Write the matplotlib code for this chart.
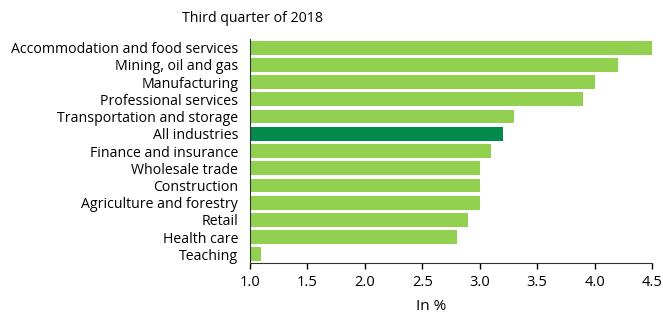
import matplotlib
matplotlib.use('Agg')
import matplotlib.pyplot as plt

plt.rcParams['font.family'] = ['Open Sans', 'DejaVu Sans']

categories = ['Accommodation and food services', 'Mining, oil and gas', 'Manufacturing',
              'Professional services', 'Transportation and storage', 'All industries',
              'Finance and insurance', 'Wholesale trade', 'Construction',
              'Agriculture and forestry', 'Retail', 'Health care', 'Teaching']
values = [4.5, 4.2, 4.0, 3.9, 3.3, 3.2, 3.1, 3.0, 3.0, 3.0, 2.9, 2.8, 1.1]
highlight = 'All industries'
xticks = [1.0, 1.5, 2.0, 2.5, 3.0, 3.5, 4.0, 4.5]

light = '#92d050'
dark = '#008a4c'

fig = plt.figure(figsize=(6.63, 3.16), dpi=100)
ax = fig.add_axes([250 / 663, 1 - 263 / 316, 402 / 663, 224 / 316])

ypos = list(range(len(categories)))
colors = [dark if c == highlight else light for c in categories]
ax.barh(ypos, [v - 1.0 for v in values], left=1.0, height=0.8, color=colors)
ax.set_yticks(ypos)
ax.set_yticklabels(categories, fontsize=10.2)
ax.set_ylim(len(categories) - 0.5, -0.5)
ax.tick_params(axis='y', length=0, pad=8.5)

ax.set_xlim(1.0, 4.5)
ax.set_xticks(xticks)
ax.set_xticklabels([f'{t:.1f}' for t in xticks], fontsize=10.5)
ax.tick_params(axis='x', direction='out', length=4, width=1, pad=5)

for s in ['top', 'right']:
    ax.spines[s].set_visible(False)
ax.spines['left'].set_color('#333333')
ax.spines['bottom'].set_color('#333333')

fig.text(253 / 663, 1 - 18 / 316, 'Third quarter of 2018', ha='center', va='center', fontsize=10.2)
fig.text(431 / 663, 1 - 306 / 316, 'In %', ha='center', va='center', fontsize=11)

fig.savefig('out.png', dpi=100)
